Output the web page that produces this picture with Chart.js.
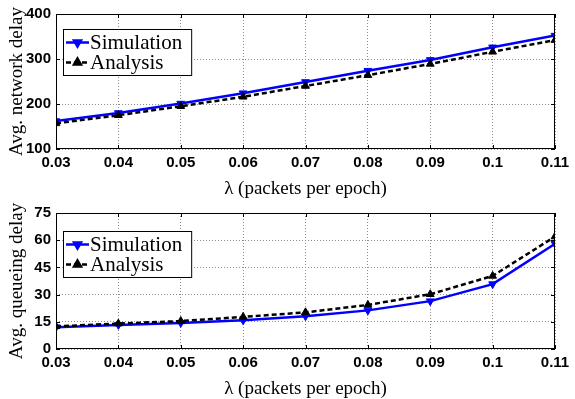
<!DOCTYPE html>
<html>
<head>
<meta charset="utf-8">
<script src="https://cdn.jsdelivr.net/npm/chart.js@4/dist/chart.umd.min.js"></script>
<style>
  body { margin: 0; background: #fff; }
  .box { position: absolute; left: 0; width: 575px; }
  #top { top: 0; height: 199px; }
  #bottom { top: 199px; height: 200px; }
</style>
</head>
<body>
<div class="box" id="top"><canvas id="delay"></canvas></div>
<div class="box" id="bottom"><canvas id="queue"></canvas></div>
<script>
const lambdas = [0.03, 0.04, 0.05, 0.06, 0.07, 0.08, 0.09, 0.1, 0.11];
const netSim = [162, 180, 201, 224, 249, 274, 298, 326, 352];
const netAna = [157, 175, 195, 216, 240, 264, 289, 316, 342];
const queSim = [12, 13.3, 14.4, 15.8, 18.1, 21.3, 26.4, 35.8, 58];
const queAna = [12.5, 14, 15.4, 17.7, 20.2, 24.3, 30.2, 40.3, 62];
const netTicks = [100, 200, 300, 400];
const queTicks = [0, 15, 30, 45, 60, 75];

const tickFont = { family: "'Liberation Sans Narrow', 'Liberation Sans', Arial, sans-serif", size: 15, weight: "bold" };
const serif = "'Liberation Serif', 'Times New Roman', serif";

// MATLAB style frame + inward ticks
const frame = {
    id: "frame",
    afterDatasetsDraw(chart) {
        const { ctx, chartArea: a, scales } = chart;
        ctx.save();
        ctx.strokeStyle = "#000";
        ctx.lineWidth = 1;
        ctx.strokeRect(a.left + 0.5, a.top + 0.5, a.right - a.left - 1, a.bottom - a.top - 1);
        ctx.beginPath();
        scales.x.ticks.forEach(t => {
            const px = Math.round(scales.x.getPixelForValue(t.value)) + 0.5;
            ctx.moveTo(px, a.bottom); ctx.lineTo(px, a.bottom - 4);
            ctx.moveTo(px, a.top); ctx.lineTo(px, a.top + 4);
        });
        scales.y.ticks.forEach(t => {
            const py = Math.round(scales.y.getPixelForValue(t.value)) + 0.5;
            ctx.moveTo(a.left, py); ctx.lineTo(a.left + 4, py);
            ctx.moveTo(a.right, py); ctx.lineTo(a.right - 4, py);
        });
        ctx.stroke();
        ctx.restore();
    },
};

// boxed legend inside the plot
const boxLegend = {
    id: "boxLegend",
    afterDraw(chart, args, opts) {
        const { ctx, chartArea: a } = chart;
        const sets = chart.data.datasets;
        ctx.save();
        ctx.font = "21px " + serif;
        const tw = Math.max(...sets.map(d => ctx.measureText(d.label).width));
        const x = a.left + 7, y = a.top + opts.dy;
        const w = 28 + tw + 8, h = 46;
        ctx.fillStyle = "#fff";
        ctx.fillRect(x, y, w, h);
        ctx.strokeStyle = "#000";
        ctx.lineWidth = 1;
        ctx.strokeRect(x + 0.5, y + 0.5, w, h);
        sets.forEach((d, i) => {
            const cy = y + 13.5 + i * 20;
            ctx.strokeStyle = d.borderColor;
            ctx.lineWidth = d.borderWidth;
            ctx.setLineDash(d.borderDash || []);
            ctx.beginPath();
            ctx.moveTo(x + 3, cy); ctx.lineTo(x + 26, cy);
            ctx.stroke();
            ctx.setLineDash([]);
            Chart.helpers.drawPoint(ctx, {
                pointStyle: "triangle", rotation: d.pointRotation || 0,
                radius: 4, borderWidth: 1,
            }, x + 14.5, cy);
            ctx.fillStyle = d.borderColor;
            ctx.fill();
            ctx.fillStyle = "#000";
            ctx.textBaseline = "middle";
            ctx.fillText(d.label, x + 27, cy + 1);
        });
        ctx.restore();
    },
};

function makeChart(id, sim, ana, yTicks, yTitle, padTop, legendDy) {
    return new Chart(document.getElementById(id), {
        type: "line",
        data: {
            datasets: [
                {
                    label: "Simulation",
                    data: lambdas.map((l, i) => ({ x: l, y: sim[i] })),
                    borderColor: "#0000ff",
                    backgroundColor: "#0000ff",
                    borderWidth: 2.5,
                    pointStyle: "triangle",
                    pointRotation: 180,
                    pointRadius: 4.5,
                    pointBorderWidth: 1,
                    order: 1,
                },
                {
                    label: "Analysis",
                    data: lambdas.map((l, i) => ({ x: l, y: ana[i] })),
                    borderColor: "#000000",
                    backgroundColor: "#000000",
                    borderWidth: 2.5,
                    borderDash: [5, 3],
                    pointStyle: "triangle",
                    pointRadius: 4.5,
                    pointBorderWidth: 1,
                    order: 0,
                },
            ],
        },
        options: {
            responsive: true,
            maintainAspectRatio: false,
            animation: false,
            layout: { padding: { top: padTop, right: 20, left: 0, bottom: 0 } },
            scales: {
                x: {
                    type: "linear",
                    min: lambdas[0],
                    max: lambdas[lambdas.length - 1],
                    afterBuildTicks: s => { s.ticks = lambdas.map(v => ({ value: v })); },
                    afterFit: s => { s.height = 50; },
                    grid: { color: "#8c8c8c", drawTicks: false },
                    border: { display: false, dash: [1, 2] },
                    ticks: {
                        font: tickFont,
                        color: "#000",
                        padding: 5,
                        maxRotation: 0,
                        callback: v => String(+v.toFixed(2)),
                    },
                    title: {
                        display: true,
                        text: "λ (packets per epoch)",
                        font: { family: serif, size: 19, lineHeight: 1 },
                        color: "#000",
                        padding: { top: 0, bottom: 0 },
                    },
                },
                y: {
                    min: yTicks[0],
                    max: yTicks[yTicks.length - 1],
                    afterBuildTicks: s => { s.ticks = yTicks.map(v => ({ value: v })); },
                    afterFit: s => { s.width = 56; },
                    grid: { color: "#8c8c8c", drawTicks: false },
                    border: { display: false, dash: [1, 2] },
                    ticks: { font: tickFont, color: "#000", padding: 5 },
                    title: {
                        display: true,
                        text: yTitle,
                        font: { family: serif, size: 19, lineHeight: 1 },
                        color: "#000",
                        padding: { top: 8, bottom: 0 },
                    },
                },
            },
            plugins: {
                legend: { display: false },
                tooltip: { enabled: false },
                boxLegend: { dy: legendDy },
            },
        },
        plugins: [frame, boxLegend],
    });
}

makeChart("delay", netSim, netAna, netTicks, "Avg. network delay", 13, 15);
makeChart("queue", queSim, queAna, queTicks, "Avg. queueing delay", 9, 18);
</script>
</body>
</html>
